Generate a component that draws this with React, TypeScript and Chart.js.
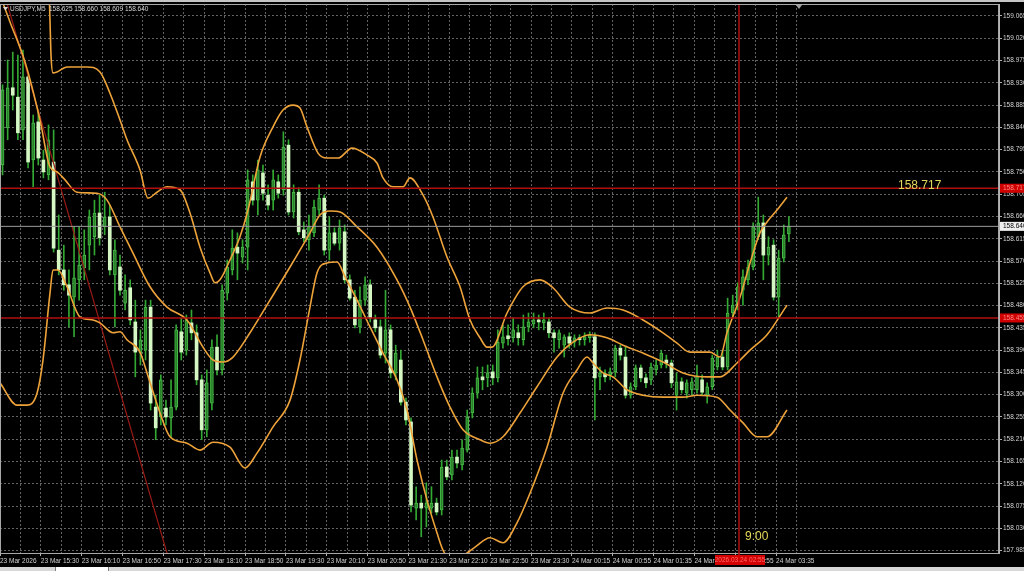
import React, { useEffect, useRef } from "react";
import { Chart, registerables } from "chart.js";

Chart.register(...registerables);

// ---------- Data (USDJPY, M5 candles) ----------
const openP = [
  158.764, 158.839, 158.920, 158.901, 158.835, 158.942, 158.774, 158.851, 158.774, 158.744,
  158.770, 158.592, 158.552, 158.522, 158.497, 158.532, 158.556, 158.602, 158.619, 158.667,
  158.639, 158.659, 158.542, 158.558, 158.485, 158.516, 158.447, 158.384, 158.390, 158.477,
  158.275, 158.255, 158.273, 158.253, 158.275, 158.427, 158.390, 158.445, 158.425, 158.330,
  158.229, 158.283, 158.396, 158.350, 158.505, 158.552, 158.598, 158.578, 158.598, 158.730,
  158.693, 158.748, 158.703, 158.693, 158.730, 158.714, 158.804, 158.669, 158.709, 158.633,
  158.613, 158.627, 158.673, 158.697, 158.592, 158.627, 158.606, 158.629, 158.532, 158.497,
  158.437, 158.491, 158.522, 158.451, 158.437, 158.384, 158.431, 158.344, 158.370, 158.285,
  158.245, 158.071, 158.081, 158.071, 158.071, 158.081, 158.067, 158.154, 158.138, 158.174,
  158.158, 158.188, 158.263, 158.303, 158.336, 158.334, 158.346, 158.334, 158.404, 158.419,
  158.415, 158.425, 158.411, 158.437, 158.443, 158.451, 158.445, 158.447, 158.425, 158.411,
  158.400, 158.417, 158.406, 158.415, 158.411, 158.415, 158.417, 158.336, 158.342, 158.340,
  158.346, 158.394, 158.376, 158.299, 158.316, 158.354, 158.334, 158.330, 158.350, 158.360,
  158.370, 158.364, 158.299, 158.326, 158.303, 158.310, 158.310, 158.330, 158.299, 158.316,
  158.356, 158.376, 158.356, 158.465, 158.481, 158.511, 158.532, 158.558, 158.619, 158.647,
  158.582, 158.602, 158.497, 158.576, 158.625,
];
const highP = [
  158.926, 158.976, 158.992, 158.986, 158.996, 158.946, 158.865, 158.875, 158.794, 158.845,
  158.835, 158.663, 158.602, 158.552, 158.639, 158.639, 158.633, 158.673, 158.693, 158.703,
  158.709, 158.683, 158.613, 158.582, 158.542, 158.532, 158.491, 158.431, 158.491, 158.491,
  158.299, 158.340, 158.289, 158.330, 158.441, 158.455, 158.461, 158.471, 158.441, 158.340,
  158.350, 158.411, 158.421, 158.522, 158.572, 158.633, 158.627, 158.613, 158.754, 158.744,
  158.774, 158.764, 158.724, 158.754, 158.744, 158.831, 158.815, 158.724, 158.718, 158.649,
  158.663, 158.693, 158.724, 158.703, 158.659, 158.637, 158.653, 158.643, 158.542, 158.511,
  158.518, 158.538, 158.532, 158.461, 158.451, 158.511, 158.441, 158.400, 158.390, 158.293,
  158.253, 158.114, 158.097, 158.122, 158.114, 158.091, 158.168, 158.168, 158.188, 158.188,
  158.209, 158.269, 158.314, 158.356, 158.356, 158.360, 158.360, 158.431, 158.441, 158.441,
  158.455, 158.441, 158.461, 158.465, 158.465, 158.461, 158.465, 158.455, 158.431, 158.431,
  158.421, 158.425, 158.421, 158.421, 158.425, 158.427, 158.425, 158.356, 158.350, 158.354,
  158.400, 158.400, 158.396, 158.324, 158.360, 158.360, 158.342, 158.364, 158.370, 158.390,
  158.380, 158.370, 158.344, 158.334, 158.330, 158.334, 158.360, 158.340, 158.324, 158.380,
  158.390, 158.390, 158.495, 158.501, 158.526, 158.552, 158.572, 158.647, 158.699, 158.663,
  158.619, 158.613, 158.592, 158.643, 158.660,
];
const lowP = [
  158.744, 158.815, 158.875, 158.815, 158.815, 158.758, 158.720, 158.764, 158.738, 158.734,
  158.588, 158.542, 158.511, 158.437, 158.417, 158.491, 158.532, 158.552, 158.582, 158.602,
  158.623, 158.542, 158.437, 158.501, 158.471, 158.441, 158.336, 158.360, 158.370, 158.269,
  158.209, 158.239, 158.239, 158.215, 158.269, 158.370, 158.380, 158.411, 158.320, 158.209,
  158.215, 158.269, 158.340, 158.340, 158.491, 158.542, 158.532, 158.566, 158.552, 158.683,
  158.663, 158.693, 158.673, 158.673, 158.697, 158.703, 158.663, 158.657, 158.623, 158.609,
  158.592, 158.619, 158.663, 158.582, 158.572, 158.602, 158.592, 158.526, 158.491, 158.435,
  158.425, 158.481, 158.447, 158.427, 158.374, 158.364, 158.334, 158.330, 158.279, 158.239,
  158.063, 158.047, 158.013, 158.033, 158.061, 158.057, 158.057, 158.128, 158.128, 158.152,
  158.148, 158.184, 158.253, 158.293, 158.310, 158.316, 158.320, 158.326, 158.394, 158.400,
  158.406, 158.400, 158.400, 158.427, 158.435, 158.431, 158.431, 158.415, 158.386, 158.394,
  158.376, 158.394, 158.396, 158.400, 158.400, 158.406, 158.249, 158.310, 158.326, 158.330,
  158.336, 158.370, 158.293, 158.293, 158.310, 158.326, 158.314, 158.320, 158.340, 158.354,
  158.354, 158.314, 158.269, 158.303, 158.293, 158.299, 158.303, 158.299, 158.283, 158.310,
  158.350, 158.350, 158.350, 158.455, 158.471, 158.481, 158.522, 158.552, 158.613, 158.532,
  158.562, 158.491, 158.457, 158.568, 158.609,
];
const closeP = [
  158.916, 158.920, 158.905, 158.829, 158.942, 158.770, 158.849, 158.778, 158.750, 158.815,
  158.596, 158.552, 158.522, 158.501, 158.536, 158.562, 158.582, 158.659, 158.667, 158.617,
  158.659, 158.552, 158.592, 158.511, 158.511, 158.451, 158.386, 158.411, 158.477, 158.283,
  158.233, 158.330, 158.255, 158.275, 158.431, 158.386, 158.451, 158.425, 158.330, 158.229,
  158.324, 158.396, 158.350, 158.511, 158.558, 158.596, 158.586, 158.598, 158.734, 158.693,
  158.754, 158.707, 158.683, 158.734, 158.707, 158.800, 158.669, 158.709, 158.629, 158.617,
  158.639, 158.679, 158.697, 158.592, 158.627, 158.606, 158.637, 158.532, 158.495, 158.441,
  158.491, 158.522, 158.455, 158.435, 158.380, 158.431, 158.344, 158.384, 158.285, 158.249,
  158.077, 158.081, 158.071, 158.081, 158.081, 158.063, 158.154, 158.134, 158.174, 158.162,
  158.192, 158.255, 158.303, 158.334, 158.330, 158.344, 158.334, 158.406, 158.417, 158.413,
  158.431, 158.415, 158.437, 158.447, 158.451, 158.447, 158.451, 158.425, 158.415, 158.425,
  158.417, 158.404, 158.415, 158.411, 158.417, 158.421, 158.334, 158.344, 158.336, 158.346,
  158.394, 158.380, 158.299, 158.316, 158.354, 158.334, 158.324, 158.356, 158.360, 158.384,
  158.364, 158.324, 158.326, 158.310, 158.324, 158.326, 158.336, 158.305, 158.316, 158.374,
  158.376, 158.356, 158.465, 158.481, 158.518, 158.538, 158.558, 158.639, 158.647, 158.582,
  158.598, 158.497, 158.576, 158.623, 158.640,
];

// Bollinger bands: [bar position, price] read at points along each curve
const upperBand = [
  [8.7, 159.259], [9.29, 159.057], [9.49, 158.986], [9.88, 158.95], [10.66, 158.952], [12.62, 158.962],
  [16.54, 158.962], [19.08, 158.952], [21.04, 158.909], [23.0, 158.855], [24.37, 158.815], [26.92, 158.754],
  [28.49, 158.697], [30.25, 158.709], [32.21, 158.72], [34.75, 158.714], [36.71, 158.667], [38.67, 158.598],
  [40.63, 158.546], [41.61, 158.526], [42.59, 158.532], [44.54, 158.572], [46.5, 158.619], [48.07, 158.673],
  [50.42, 158.78], [52.97, 158.841], [54.92, 158.875], [56.88, 158.885], [58.25, 158.879], [59.62, 158.841],
  [61.78, 158.788], [63.54, 158.778], [65.7, 158.778], [68.44, 158.798], [71.38, 158.784], [73.33, 158.768],
  [74.51, 158.738], [76.47, 158.72], [78.43, 158.72], [79.8, 158.738], [82.15, 158.707], [84.3, 158.659],
  [87.04, 158.578], [89.59, 158.518], [91.55, 158.451], [93.51, 158.415], [94.88, 158.396], [95.86, 158.396],
  [98.8, 158.465], [101.93, 158.518], [105.26, 158.532], [107.8, 158.516], [111.13, 158.477], [115.05, 158.465],
  [118.38, 158.475], [121.51, 158.471], [125.43, 158.451], [129.35, 158.425], [132.09, 158.404], [134.63, 158.386],
  [138.55, 158.386], [140.51, 158.376], [141.88, 158.425], [144.43, 158.497], [146.39, 158.566], [148.34, 158.627],
  [149.72, 158.649], [151.68, 158.673], [153.63, 158.699],
];
const middleBand = [
  [-0.5, 159.107], [1.46, 159.053], [4.4, 158.972], [7.33, 158.855], [9.29, 158.76], [10.66, 158.75],
  [12.23, 158.734], [14.58, 158.709], [18.5, 158.707], [20.46, 158.693], [23.0, 158.639], [25.55, 158.586],
  [28.88, 158.518], [32.21, 158.477], [36.12, 158.451], [39.26, 158.396], [41.22, 158.37], [43.17, 158.366],
  [45.13, 158.376], [48.46, 158.425], [52.38, 158.491], [56.3, 158.558], [60.21, 158.627], [62.17, 158.663],
  [64.13, 158.671], [66.09, 158.669], [69.42, 158.639], [73.33, 158.598], [77.25, 158.532], [79.8, 158.477],
  [82.34, 158.411], [85.08, 158.336], [87.63, 158.275], [90.18, 158.229], [93.51, 158.209], [95.47, 158.202],
  [98.01, 158.215], [101.34, 158.263], [104.67, 158.316], [108.59, 158.376], [111.72, 158.406], [115.05, 158.421],
  [118.38, 158.415], [121.51, 158.4], [125.43, 158.384], [129.35, 158.366], [133.26, 158.344], [137.96, 158.336],
  [140.51, 158.336], [143.84, 158.364], [146.39, 158.39], [149.72, 158.421], [153.63, 158.481],
];
const lowerBand = [
  [-0.5, 158.324], [2.83, 158.279], [4.79, 158.279], [6.75, 158.303], [7.92, 158.37], [9.29, 158.505],
  [9.88, 158.552], [10.86, 158.552], [12.62, 158.518], [15.17, 158.457], [17.71, 158.451], [19.08, 158.445],
  [21.63, 158.425], [23.0, 158.427], [24.37, 158.411], [26.92, 158.386], [28.29, 158.344], [30.84, 158.263],
  [32.79, 158.215], [36.12, 158.202], [38.67, 158.188], [41.22, 158.204], [44.54, 158.194], [47.48, 158.152],
  [49.83, 158.182], [52.97, 158.235], [56.3, 158.289], [58.25, 158.37], [60.21, 158.477], [61.58, 158.546],
  [63.54, 158.566], [65.5, 158.568], [67.07, 158.538], [69.42, 158.491], [71.96, 158.437], [74.51, 158.384],
  [77.25, 158.33], [79.21, 158.269], [81.17, 158.168], [83.13, 158.087], [85.08, 158.021], [86.26, 157.986],
  [87.63, 157.97], [89.98, 157.974], [92.53, 157.992], [95.47, 158.011], [98.01, 158.001], [100.75, 158.041],
  [103.3, 158.101], [106.63, 158.194], [109.76, 158.303], [112.5, 158.35], [114.46, 158.376], [115.64, 158.364],
  [117.6, 158.344], [119.55, 158.336], [122.3, 158.31], [125.43, 158.299], [129.35, 158.295], [133.26, 158.295],
  [136.01, 158.299], [139.92, 158.295], [142.47, 158.269], [145.02, 158.243], [147.76, 158.215], [149.72, 158.215],
  [153.63, 158.269],
];

const trendLine = [[0.9, 159.09], [32.2, 157.98]];
const resistanceLevel = 158.717;
const supportLevel = 158.455;
const bidPrice = 158.64;
const markerBar = 144.23;
const markerText = "9:00";
const markerTimeText = "2026.03.24 02:55";

const xTickLabels = [
  "23 Mar 2026", "23 Mar 15:30", "23 Mar 16:10", "23 Mar 16:50", "23 Mar 17:30", "23 Mar 18:10",
  "23 Mar 18:50", "23 Mar 19:30", "23 Mar 20:10", "23 Mar 20:50", "23 Mar 21:30", "23 Mar 22:10",
  "23 Mar 22:50", "23 Mar 23:30", "24 Mar 00:15", "24 Mar 00:55", "24 Mar 01:35", "24 Mar 02:15",
  "24 Mar 02:55", "24 Mar 03:35",
];
const yTickValues = [
  157.985, 158.03, 158.075, 158.12, 158.165, 158.21, 158.255, 158.3, 158.345, 158.39, 158.435, 158.48,
  158.525, 158.57, 158.615, 158.66, 158.705, 158.75, 158.795, 158.84, 158.885, 158.93, 158.975, 159.02, 159.065,
];
const symbolTitle = "USDJPY,M5";
const lastBarOHLC = ["158.625", "158.660", "158.609", "158.640"];

const FONT = "'Liberation Sans', Arial, sans-serif";
const BAND = "#eea33a";
const GRID = "#636363";

export default function App() {
  const ref = useRef<HTMLCanvasElement>(null);

  useEffect(() => {
    document.body.style.margin = "0";
    document.body.style.background = "#000";
    const canvas = ref.current!;
    const bull = (i: number) => closeP[i] >= openP[i];
    const bodies = openP.map((o, i) => ({ x: i, y: [Math.min(o, closeP[i]), Math.max(o, closeP[i])] }));
    const wicks = lowP.map((l, i) => ({ x: i, y: [l, highP[i]] }));
    const pts = (a: number[][]) => a.map(([x, y]) => ({ x, y }));
    const hline = (v: number) => [{ x: -2, y: v }, { x: 200, y: v }];

    const bandDs = (label: string, d: number[][]) => ({
      type: "line" as const,
      label,
      data: pts(d),
      borderColor: BAND,
      borderWidth: 1.6,
      pointRadius: 0,
      cubicInterpolationMode: "monotone" as const,
      order: 1,
    });

    const deco = {
      id: "mtDeco",
      beforeDraw(chart: any) {
        const c = chart.ctx;
        c.save();
        c.fillStyle = "#000";
        c.fillRect(0, 0, chart.width, chart.height);
        c.restore();
      },
      afterDraw(chart: any) {
        const { ctx: c, chartArea: a, scales } = chart;
        const x = scales.x;
        const y = scales.y;
        c.save();
        // plot frame
        c.strokeStyle = "#a8a8a8";
        c.lineWidth = 1;
        c.strokeRect(a.left + 0.5, a.top + 0.5, a.right - a.left - 1, a.bottom - a.top);

        // title
        c.fillStyle = "#d8d8d8";
        c.beginPath();
        c.moveTo(a.left + 3, a.top + 3);
        c.lineTo(a.left + 8, a.top + 3);
        c.lineTo(a.left + 5.5, a.top + 6.5);
        c.closePath();
        c.fill();
        c.font = `6.5px ${FONT}`;
        c.textBaseline = "middle";
        c.textAlign = "left";
        c.fillText(symbolTitle, a.left + 10, a.top + 5);
        c.fillText(lastBarOHLC.join(" "), a.left + 49, a.top + 5);

        // shift marker triangle
        c.fillStyle = "#a0a0a0";
        c.beginPath();
        c.moveTo(a.left + 796, a.top + 1);
        c.lineTo(a.left + 802, a.top + 1);
        c.lineTo(a.left + 799, a.top + 5);
        c.closePath();
        c.fill();

        // price boxes on the right axis
        const box = (val: number, bg: string, fg: string) => {
          const py = y.getPixelForValue(val);
          c.fillStyle = bg;
          c.fillRect(a.right + 1, py - 4.5, 30, 9);
          c.fillStyle = fg;
          c.font = `6.5px ${FONT}`;
          c.textAlign = "left";
          c.textBaseline = "middle";
          c.fillText(val.toFixed(3), a.right + 4, py);
        };
        box(resistanceLevel, "#d00000", "#ff8a8a");
        box(supportLevel, "#d00000", "#ff8a8a");
        box(bidPrice, "#eeeeee", "#000000");

        // level text
        c.fillStyle = "#e6d85a";
        c.font = `12px ${FONT}`;
        c.textAlign = "left";
        c.textBaseline = "middle";
        c.fillText(resistanceLevel.toFixed(3), a.right - 101, y.getPixelForValue(resistanceLevel) - 3);

        // vertical marker labels
        const mx = x.getPixelForValue(markerBar);
        c.fillText(markerText, mx + 6, a.bottom - 16);
        c.fillStyle = "#d40000";
        c.fillRect(mx - 24, a.bottom + 2, 50, 10);
        c.fillStyle = "#ff6a6a";
        c.font = `6.5px ${FONT}`;
        c.textAlign = "center";
        c.fillText(markerTimeText, mx + 1, a.bottom + 7);
        c.strokeStyle = "#b01010";
        c.lineWidth = 1.5;
        c.beginPath();
        c.moveTo(mx, a.bottom);
        c.lineTo(mx, a.bottom + 2);
        c.stroke();
        c.restore();
      },
    };

    const chart = new Chart(canvas, {
      type: "bar",
      data: {
        datasets: [
          {
            type: "line",
            label: "resistance",
            data: hline(resistanceLevel),
            borderColor: "#b01010",
            borderWidth: 1.5,
            pointRadius: 0,
            order: 0,
          } as any,
          {
            type: "line",
            label: "support",
            data: hline(supportLevel),
            borderColor: "#b01010",
            borderWidth: 1.5,
            pointRadius: 0,
            order: 0,
          } as any,
          {
            type: "line",
            label: "bid",
            data: hline(bidPrice),
            borderColor: "#9c9c9c",
            borderWidth: 1,
            pointRadius: 0,
            order: 0,
          } as any,
          {
            type: "line",
            label: "marker",
            data: [{ x: markerBar, y: 157.9 }, { x: markerBar, y: 159.2 }],
            borderColor: "#b01010",
            borderWidth: 1.5,
            pointRadius: 0,
            order: 0,
          } as any,
          {
            type: "line",
            label: "trend",
            data: pts(trendLine),
            borderColor: "#9a1a14",
            borderWidth: 1.2,
            pointRadius: 0,
            order: 2,
          } as any,
          bandDs("upper", upperBand) as any,
          bandDs("middle", middleBand) as any,
          bandDs("lower", lowerBand) as any,
          {
            type: "bar",
            label: "body",
            data: bodies,
            backgroundColor: (ctx: any) => (bull(ctx.dataIndex) ? "#2a7f2a" : "#d4f7c4"),
            borderColor: (ctx: any) => (bull(ctx.dataIndex) ? "#45bb45" : "#a6e692"),
            borderWidth: (ctx: any) => (bull(ctx.dataIndex) ? 1 : 0),
            borderSkipped: false,
            barThickness: 3,
            minBarLength: 1,
            grouped: false,
            order: 3,
          } as any,
          {
            type: "bar",
            label: "wick",
            data: wicks,
            backgroundColor: "#33a833",
            barThickness: 1,
            grouped: false,
            order: 4,
          } as any,
        ],
      },
      options: {
        responsive: false,
        animation: false,
        layout: { padding: { top: 2, left: 0, right: 0, bottom: 0 } },
        plugins: { legend: { display: false }, tooltip: { enabled: false } },
        scales: {
          x: {
            type: "linear",
            position: "bottom",
            min: -0.5,
            max: 195.15,
            offset: false,
            afterBuildTicks: (s: any) => {
              s.ticks = xTickLabels.flatMap((_, k) => [{ value: 8 * k - 0.5 }, { value: 8 * k + 3.5 }]);
            },
            afterFit: (s: any) => {
              s.height = 14;
              s.paddingLeft = 0;
              s.paddingRight = 0;
            },
            ticks: {
              autoSkip: false,
              maxRotation: 0,
              minRotation: 0,
              align: "start",
              padding: 1,
              color: "#d2d2d2",
              font: { family: FONT, size: 6.5 },
              callback: (_v: any, i: number) => (i % 2 === 0 ? xTickLabels[i / 2] ?? "" : ""),
            },
            grid: {
              color: GRID,
              lineWidth: 1,
              tickLength: 3,
              offset: false,
              tickColor: (ctx: any) => (ctx.index % 2 === 0 ? "#b0b0b0" : "rgba(0,0,0,0)"),
            },
            border: { display: true, color: "#b4b4b4", width: 1, dash: [2, 2] },
          } as any,
          y: {
            type: "linear",
            position: "right",
            min: 157.9802,
            max: 159.0892,
            afterBuildTicks: (s: any) => {
              s.ticks = yTickValues.map((v) => ({ value: v }));
            },
            afterFit: (s: any) => {
              s.width = 25;
              s.paddingTop = 0;
              s.paddingBottom = 0;
            },
            ticks: {
              padding: 1,
              color: "#d2d2d2",
              font: { family: FONT, size: 6.5 },
              callback: (v: any) => Number(v).toFixed(3),
            },
            grid: { color: GRID, lineWidth: 1, tickLength: 3, tickColor: "#b0b0b0" },
            border: { display: true, color: "#b4b4b4", width: 1, dash: [2, 2] },
          } as any,
        },
      },
      plugins: [deco],
    });
    return () => chart.destroy();
  }, []);

  return (
    <div style={{ width: 1024, background: "#000" }}>
      <div style={{ height: 2, background: "#c4c4c4" }} />
      <canvas ref={ref} width={1024} height={565} style={{ display: "block" }} />
      <div style={{ height: 4, background: "#d8d8d8", position: "relative", overflow: "hidden" }}>
        <div
          style={{
            position: "absolute",
            left: 55,
            width: 52,
            top: 0,
            height: 4,
            background: "#ffffff",
            borderLeft: "1px solid #7a7a7a",
            borderRight: "1px solid #7a7a7a",
          }}
        />
      </div>
    </div>
  );
}
